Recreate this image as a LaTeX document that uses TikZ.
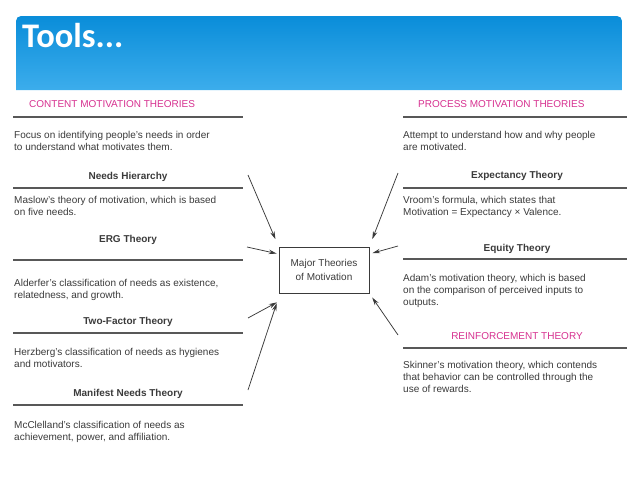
\documentclass[tikz,border=0pt]{standalone}
\usepackage{fontspec}
\setmainfont{Liberation Sans}
\newfontfamily\titlefont{Carlito}
\usetikzlibrary{arrows.meta}

\definecolor{barTop}{HTML}{0A8DD9}
\definecolor{barBot}{HTML}{3CADEC}
\definecolor{pink}{HTML}{D6308F}
\definecolor{ink}{HTML}{3A3A3A}

\tikzset{
  body/.style={anchor=north west, inner sep=0pt, align=left, text=ink,
    font=\fontsize{10}{12}\selectfont},
  head/.style={anchor=base, inner sep=0pt, text=ink,
    font=\fontsize{10}{12}\selectfont\bfseries},
  group/.style={inner sep=0pt, text=pink, font=\fontsize{10}{12}\selectfont},
  rule/.style={draw=ink!85, line width=1.1pt},
  feed/.style={draw=ink, line width=0.75pt, shorten >=#1,
    -{Stealth[length=8pt,width=4.5pt]}},
  feed/.default=2pt
}

\begin{document}
\begin{tikzpicture}[x=1pt,y=-1pt]
\useasboundingbox (0,0) rectangle (638,479);

% title bar
\shade[top color=barTop, bottom color=barBot]
  (16,90) -- (16,21) arc[start angle=180, end angle=270, radius=5]
  -- (617,16) arc[start angle=270, end angle=360, radius=5]
  -- (622,90) -- cycle;
\node[anchor=base west, inner sep=0pt, text=white,
  font=\titlefont\fontsize{34.5}{38}\selectfont\bfseries] (tools) at (22,47) {Tools...};

% content theories
\node[group, anchor=base west] (content) at (29,107) {CONTENT MOTIVATION THEORIES};
\draw[rule] (13,117) -- (243,117);
\node[body] (focus) at (14,131) {Focus on identifying people's needs in order\\to understand what motivates them.};
\node[head] (needs) at (128,179) {Needs Hierarchy};
\draw[rule] (13,188) -- (243,188);
\node[body] (maslow) at (14,196) {Maslow's theory of motivation, which is based\\on five needs.};
\node[head] (erg) at (128,242) {ERG Theory};
\draw[rule] (13,260) -- (243,260);
\node[body] (alderfer) at (14,279) {Alderfer's classification of needs as existence,\\relatedness, and growth.};
\node[head] (twofactor) at (128,324) {Two-Factor Theory};
\draw[rule] (13,333) -- (243,333);
\node[body] (herzberg) at (14,348) {Herzberg's classification of needs as hygienes\\and motivators.};
\node[head] (manifest) at (128,396) {Manifest Needs Theory};
\draw[rule] (13,405) -- (243,405);
\node[body] (mcclelland) at (14,421) {McClelland's classification of needs as\\achievement, power, and affiliation.};

% process theories
\node[group, anchor=base west] (process) at (418,107) {PROCESS MOTIVATION THEORIES};
\draw[rule] (403,117) -- (627,117);
\node[body] (attempt) at (403,131) {Attempt to understand how and why people\\are motivated.};
\node[head] (expectancy) at (517,178) {Expectancy Theory};
\draw[rule] (403,188) -- (627,188);
\node[body] (vroom) at (403,196) {Vroom's formula, which states that\\Motivation = Expectancy × Valence.};
\node[head] (equity) at (517,251) {Equity Theory};
\draw[rule] (403,259) -- (627,259);
\node[body] (adam) at (403,274) {Adam's motivation theory, which is based\\on the comparison of perceived inputs to\\outputs.};
\node[group, anchor=base] (reinforcement) at (517,339) {REINFORCEMENT THEORY};
\draw[rule] (403,348) -- (627,348);
\node[body] (skinner) at (403,361) {Skinner's motivation theory, which contends\\that behavior can be controlled through the\\use of rewards.};

% centre box
\node[draw=ink, line width=0.8pt, minimum width=90pt, minimum height=46pt,
  align=center, text=ink, font=\fontsize{10}{13.5}\selectfont] (major) at (324,270) {Major Theories\\of Motivation};

% arrows into the box
\coordinate (l1) at (248,175);
\coordinate (l2) at (247,247);
\coordinate (l3) at (248,318);
\coordinate (l4) at (248,390);
\coordinate (r1) at (398,173);
\coordinate (r2) at (398,246);
\coordinate (r3) at (398,335);
\draw[feed=8pt] (l1) -- (major.north west);
\draw[feed] (l2) -- ([yshift=16pt]major.west);
\draw[feed] (l3) -- ([yshift=-8pt]major.south west);
\draw[feed=6pt] (l4) -- ([yshift=-4pt]major.south west);
\draw[feed=8pt] (r1) -- (major.north east);
\draw[feed=3pt] (r2) -- ([yshift=16pt]major.east);
\draw[feed=5pt] (r3) -- (major.south east);
\end{tikzpicture}
\end{document}
